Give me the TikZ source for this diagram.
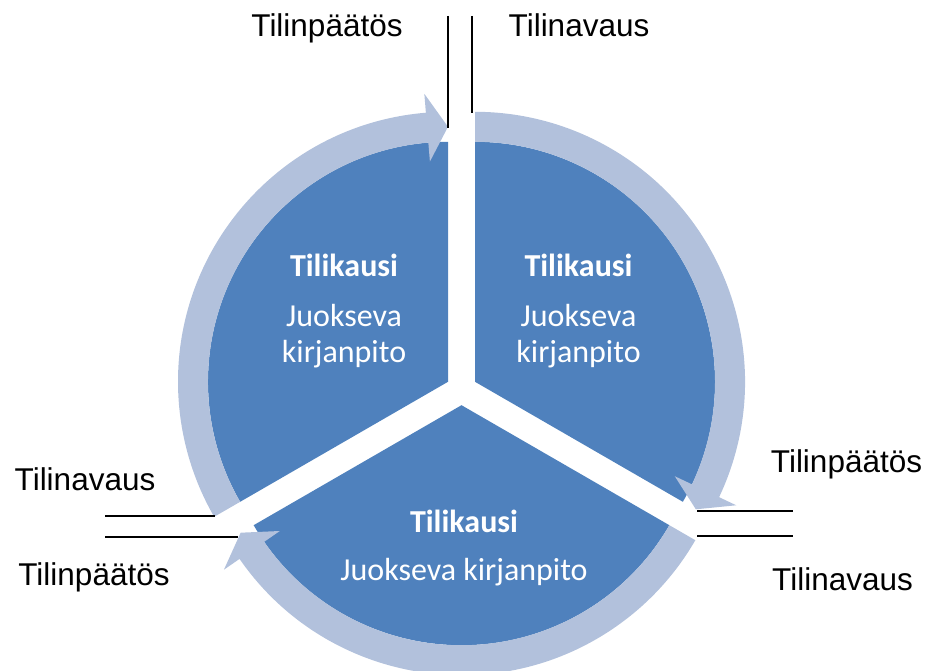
\documentclass[tikz,border=0pt]{standalone}
\usepackage{fontspec}
\setmainfont{Liberation Sans}
\newfontfamily\carlito{Carlito}
\usetikzlibrary{calc}
\definecolor{wedgeblue}{HTML}{4F81BD}
\definecolor{ringblue}{HTML}{B2C1DC}
\newcommand\mywedge[2]{% #1 start angle, #2 end angle (relative to scope origin)
  \fill[wedgeblue] (0,0) -- (#1:240pt) arc[start angle=#1, end angle=#2, radius=240pt] -- cycle;}
\newcommand\myring[1]{% #1 start angle; arrow runs clockwise 120 degrees
  \pgfmathsetmacro\tipang{#1-120}%
  \pgfmathsetmacro\baseang{#1-115.3}%
  \fill[ringblue] (#1:240pt) arc[start angle=#1, end angle=\baseang, radius=240pt]
    -- (\baseang:221pt) -- (\tipang:255pt) -- (\baseang:289pt) -- (\baseang:270pt)
    arc[start angle=\baseang, end angle=#1, radius=270pt] -- cycle;}
\tikzset{
  outlabel/.style={font=\fontsize{31.5}{37}\selectfont, text=black, inner sep=0pt, anchor=base},
  intitle/.style={font=\carlito\bfseries\fontsize{32}{38}\selectfont, text=white, inner sep=0pt, anchor=base},
  intext/.style={font=\carlito\fontsize{32}{38}\selectfont, text=white, inner sep=0pt, anchor=base},
  mark line/.style={draw=black, line width=1.3pt}
}
\begin{document}
\begin{tikzpicture}[x=1pt,y=1pt]
\useasboundingbox (0,0) rectangle (931,670);
\coordinate (L) at (448,288.2);
\coordinate (R) at (475,288.2);
\coordinate (B) at (461.5,264.8);
% wedges
\begin{scope}[shift={(L)}] \mywedge{90}{210} \myring{210} \end{scope}
\begin{scope}[shift={(R)}] \mywedge{-30}{90} \myring{90} \end{scope}
\begin{scope}[shift={(B)}] \mywedge{210}{330} \myring{330} \end{scope}
% marker lines
\coordinate (t1a) at (448,654); \coordinate (t1b) at (448,542);
\coordinate (t2a) at (472,654); \coordinate (t2b) at (472,557);
\coordinate (r1a) at (697,159); \coordinate (r1b) at (793,159);
\coordinate (r2a) at (697,134); \coordinate (r2b) at (793,134);
\coordinate (l1a) at (105,154); \coordinate (l1b) at (215,154);
\coordinate (l2a) at (105,133); \coordinate (l2b) at (238,133);
\draw[mark line] (t1a) -- (t1b);
\draw[mark line] (t2a) -- (t2b);
\draw[mark line] (r1a) -- (r1b);
\draw[mark line] (r2a) -- (r2b);
\draw[mark line] (l1a) -- (l1b);
\draw[mark line] (l2a) -- (l2b);
% outer labels
\node[outlabel] (tp) at (327,633) {Tilinpäätös};
\node[outlabel] (tv) at (579,633) {Tilinavaus};
\node[outlabel] (rp) at (846.5,198) {Tilinpäätös};
\node[outlabel] (rv) at (842.5,80) {Tilinavaus};
\node[outlabel] (lv) at (85,180) {Tilinavaus};
\node[outlabel] (lp) at (94,85) {Tilinpäätös};
% inner texts
\node[intitle] (a1) at (344,393) {Tilikausi};
\node[intext] (a2) at (344,343) {Juokseva};
\node[intext] (a3) at (344,308) {kirjanpito};
\node[intitle] (b1) at (578.5,393) {Tilikausi};
\node[intext] (b2) at (578.5,343) {Juokseva};
\node[intext] (b3) at (578.5,308) {kirjanpito};
\node[intitle] (c1) at (464,138) {Tilikausi};
\node[intext] (c2) at (464,90) {Juokseva kirjanpito};
\end{tikzpicture}
\end{document}
